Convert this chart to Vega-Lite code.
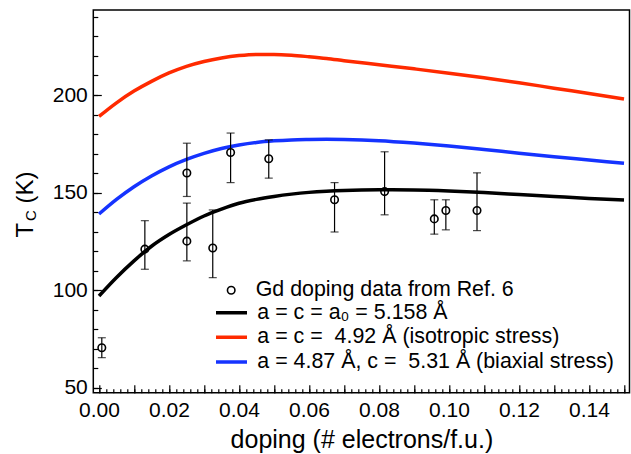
{
  "$schema": "https://vega.github.io/schema/vega-lite/v6.json",
  "width": 536.2,
  "height": 382.7,
  "autosize": {"type": "none"},
  "padding": {"left": 93.3, "top": 10, "right": 1.5, "bottom": 61.3},
  "config": {
    "font": "Liberation Sans",
    "view": {"stroke": "black", "strokeWidth": 1.5},
    "axis": {"grid": false, "domain": false, "tickColor": "black", "labelColor": "black", "titleColor": "black", "titleFontWeight": "normal", "tickWidth": 1.2},
    "legend": {"padding": 0, "labelColor": "black", "labelFontSize": 21.4, "labelLimit": 600, "title": null}
  },
  "datasets": {
    "curves": [
      {"s": "black", "x": 0, "y": 97}, {"s": "black", "x": 0.005, "y": 106.5}, {"s": "black", "x": 0.01, "y": 115}, {"s": "black", "x": 0.015, "y": 122.5}, {"s": "black", "x": 0.02, "y": 128.5}, {"s": "black", "x": 0.025, "y": 133.5}, {"s": "black", "x": 0.03, "y": 138}, {"s": "black", "x": 0.035, "y": 141.5}, {"s": "black", "x": 0.04, "y": 144.5}, {"s": "black", "x": 0.045, "y": 146.5}, {"s": "black", "x": 0.05, "y": 148}, {"s": "black", "x": 0.055, "y": 149.2}, {"s": "black", "x": 0.06, "y": 150.1}, {"s": "black", "x": 0.065, "y": 150.7}, {"s": "black", "x": 0.07, "y": 151.1}, {"s": "black", "x": 0.08, "y": 151.4}, {"s": "black", "x": 0.09, "y": 151.3}, {"s": "black", "x": 0.1, "y": 150.8}, {"s": "black", "x": 0.11, "y": 150}, {"s": "black", "x": 0.12, "y": 149}, {"s": "black", "x": 0.13, "y": 148}, {"s": "black", "x": 0.14, "y": 147}, {"s": "black", "x": 0.15, "y": 146.2},
      {"s": "red", "x": 0, "y": 189}, {"s": "red", "x": 0.005, "y": 196}, {"s": "red", "x": 0.01, "y": 202}, {"s": "red", "x": 0.015, "y": 207}, {"s": "red", "x": 0.02, "y": 211.3}, {"s": "red", "x": 0.025, "y": 214.7}, {"s": "red", "x": 0.03, "y": 217.2}, {"s": "red", "x": 0.035, "y": 219}, {"s": "red", "x": 0.04, "y": 220.2}, {"s": "red", "x": 0.045, "y": 220.8}, {"s": "red", "x": 0.05, "y": 220.8}, {"s": "red", "x": 0.055, "y": 220.4}, {"s": "red", "x": 0.06, "y": 219.6}, {"s": "red", "x": 0.065, "y": 218.7}, {"s": "red", "x": 0.07, "y": 217.6}, {"s": "red", "x": 0.08, "y": 215.5}, {"s": "red", "x": 0.09, "y": 213.4}, {"s": "red", "x": 0.1, "y": 211.2}, {"s": "red", "x": 0.11, "y": 208.8}, {"s": "red", "x": 0.12, "y": 206.3}, {"s": "red", "x": 0.13, "y": 203.5}, {"s": "red", "x": 0.14, "y": 200.8}, {"s": "red", "x": 0.15, "y": 198},
      {"s": "blue", "x": 0, "y": 139}, {"s": "blue", "x": 0.005, "y": 146.5}, {"s": "blue", "x": 0.01, "y": 153}, {"s": "blue", "x": 0.015, "y": 158.5}, {"s": "blue", "x": 0.02, "y": 163.2}, {"s": "blue", "x": 0.025, "y": 167}, {"s": "blue", "x": 0.03, "y": 170.1}, {"s": "blue", "x": 0.035, "y": 172.6}, {"s": "blue", "x": 0.04, "y": 174.4}, {"s": "blue", "x": 0.045, "y": 175.7}, {"s": "blue", "x": 0.05, "y": 176.5}, {"s": "blue", "x": 0.055, "y": 177}, {"s": "blue", "x": 0.06, "y": 177.2}, {"s": "blue", "x": 0.065, "y": 177.3}, {"s": "blue", "x": 0.07, "y": 177.2}, {"s": "blue", "x": 0.08, "y": 176.6}, {"s": "blue", "x": 0.09, "y": 175.4}, {"s": "blue", "x": 0.1, "y": 173.9}, {"s": "blue", "x": 0.11, "y": 172.1}, {"s": "blue", "x": 0.12, "y": 170.2}, {"s": "blue", "x": 0.13, "y": 168.4}, {"s": "blue", "x": 0.14, "y": 166.7}, {"s": "blue", "x": 0.15, "y": 165}
    ],
    "gd": [
      {"x": 0.0008, "y": 70.5, "lo": 65.4, "hi": 75.6},
      {"x": 0.0131, "y": 121, "lo": 110.7, "hi": 135.6},
      {"x": 0.0251, "y": 160, "lo": 148, "hi": 175.3},
      {"x": 0.0251, "y": 125.1, "lo": 115, "hi": 144.6},
      {"x": 0.0325, "y": 121.6, "lo": 106.4, "hi": 141.1},
      {"x": 0.0376, "y": 170.5, "lo": 155.1, "hi": 180.5},
      {"x": 0.0485, "y": 167.3, "lo": 157.4, "hi": 177},
      {"x": 0.0673, "y": 146.3, "lo": 129.8, "hi": 155.1},
      {"x": 0.0816, "y": 150.5, "lo": 138.6, "hi": 170.9},
      {"x": 0.0958, "y": 136.5, "lo": 128.7, "hi": 146.3},
      {"x": 0.0991, "y": 140.8, "lo": 130.9, "hi": 146.3},
      {"x": 0.108, "y": 140.8, "lo": 130.5, "hi": 160.1}
    ]
  },
  "resolve": {"axis": {"x": "independent", "y": "independent"}},
  "layer": [
    {
      "data": {"name": "curves"},
      "mark": {"type": "line", "strokeWidth": 3.5, "interpolate": "monotone"},
      "encoding": {
        "x": {"field": "x", "type": "quantitative", "scale": {"domain": [-0.00163, 0.15157], "nice": false, "zero": false},
          "axis": {"orient": "bottom", "values": [0, 0.02, 0.04, 0.06, 0.08, 0.1, 0.12, 0.14], "format": ".2f", "ticks": false, "labelFontSize": 21, "labelPadding": 7, "labelFlush": false, "title": "doping (# electrons/f.u.)", "titleFontSize": 25, "titleY": 55, "titleBaseline": "alphabetic"}},
        "y": {"field": "y", "type": "quantitative", "scale": {"domain": [47.44, 243.56], "nice": false, "zero": false},
          "axis": {"orient": "left", "values": [50, 100, 150, 200], "ticks": false, "labelFontSize": 21, "labelPadding": 6, "labelFlush": false, "title": "(K)", "titleFontSize": 24, "titleAngle": 270, "titleX": -61.3, "titleY": 193, "titleAlign": "left", "titleBaseline": "alphabetic"}},
        "color": {"field": "s", "type": "nominal",
          "scale": {"domain": ["black", "red", "blue"], "range": ["black", "#ff2a00", "#1533ff"]},
          "legend": {
            "orient": "none", "legendX": 120.7, "legendY": 292.2, "title": null,
            "symbolType": "stroke", "symbolSize": 961, "symbolStrokeWidth": 3.5, "clipHeight": 21, "rowPadding": 2.6, "labelOffset": 8.3,
            "labelExpr": "datum.value === 'black' ? 'a = c = a₀ = 5.158 Å' : datum.value === 'red' ? 'a = c = \u00a04.92 Å (isotropic stress)' : 'a = 4.87 Å, c = \u00a05.31 Å (biaxial stress)'"
          }}
      }
    },
    {
      "data": {"name": "gd"},
      "mark": {"type": "rule", "color": "black", "strokeWidth": 1.2},
      "encoding": {
        "x": {"field": "x", "type": "quantitative", "scale": {"domain": [-0.00163, 0.15157], "nice": false, "zero": false},
          "axis": {"orient": "bottom", "labels": false, "title": null, "tickSize": -4, "values": [0,0.002,0.004,0.006,0.008,0.01,0.012,0.014,0.016,0.018,0.02,0.022,0.024,0.026,0.028,0.03,0.032,0.034,0.036,0.038,0.04,0.042,0.044,0.046,0.048,0.05,0.052,0.054,0.056,0.058,0.06,0.062,0.064,0.066,0.068,0.07,0.072,0.074,0.076,0.078,0.08,0.082,0.084,0.086,0.088,0.09,0.092,0.094,0.096,0.098,0.1,0.102,0.104,0.106,0.108,0.11,0.112,0.114,0.116,0.118,0.12,0.122,0.124,0.126,0.128,0.13,0.132,0.134,0.136,0.138,0.14,0.142,0.144,0.146,0.148,0.15]}},
        "y": {"field": "lo", "type": "quantitative", "scale": {"domain": [47.44, 243.56], "nice": false, "zero": false},
          "axis": {"orient": "left", "labels": false, "tickSize": -4.5, "values": [50,60,70,80,90,100,110,120,130,140,150,160,170,180,190,200,210,220,230,240], "title": "T", "titleFontSize": 24, "titleAngle": 270, "titleX": -61.3, "titleY": 227, "titleAlign": "left", "titleBaseline": "alphabetic"}},
        "y2": {"field": "hi"}
      }
    },
    {
      "data": {"name": "gd"},
      "mark": {"type": "tick", "orient": "horizontal", "color": "black", "size": 8, "thickness": 1.2},
      "encoding": {
        "x": {"field": "x", "type": "quantitative", "scale": {"domain": [-0.00163, 0.15157], "nice": false, "zero": false},
          "axis": {"orient": "bottom", "labels": false, "title": null, "tickSize": -8, "values": [0,0.01,0.02,0.03,0.04,0.05,0.06,0.07,0.08,0.09,0.1,0.11,0.12,0.13,0.14,0.15]}},
        "y": {"field": "lo", "type": "quantitative", "scale": {"domain": [47.44, 243.56], "nice": false, "zero": false},
          "axis": {"orient": "left", "labels": false, "tickSize": -8, "values": [50, 100, 150, 200], "title": "C", "titleFontSize": 15, "titleAngle": 270, "titleX": -58, "titleY": 210.5, "titleAlign": "left", "titleBaseline": "alphabetic"}}
      }
    },
    {
      "data": {"name": "gd"},
      "mark": {"type": "tick", "orient": "horizontal", "color": "black", "size": 8, "thickness": 1.2},
      "encoding": {
        "x": {"field": "x", "type": "quantitative", "scale": {"domain": [-0.00163, 0.15157], "nice": false, "zero": false}, "axis": null},
        "y": {"field": "hi", "type": "quantitative", "scale": {"domain": [47.44, 243.56], "nice": false, "zero": false}, "axis": null}
      }
    },
    {
      "data": {"name": "gd"},
      "mark": {"type": "point", "filled": false, "color": "black", "size": 56, "strokeWidth": 1.6, "opacity": 1},
      "encoding": {
        "x": {"field": "x", "type": "quantitative", "scale": {"domain": [-0.00163, 0.15157], "nice": false, "zero": false}, "axis": null},
        "y": {"field": "y", "type": "quantitative", "scale": {"domain": [47.44, 243.56], "nice": false, "zero": false}, "axis": null},
        "shape": {"datum": "Gd doping data from Ref. 6", "type": "nominal", "scale": {"range": ["circle"]},
          "legend": {"orient": "none", "legendX": 127.2, "legendY": 269.5, "title": null, "symbolSize": 56, "symbolStrokeWidth": 1.6, "symbolStrokeColor": "black", "symbolFillColor": "transparent", "labelOffset": 13.8}}
      }
    }
  ]
}
